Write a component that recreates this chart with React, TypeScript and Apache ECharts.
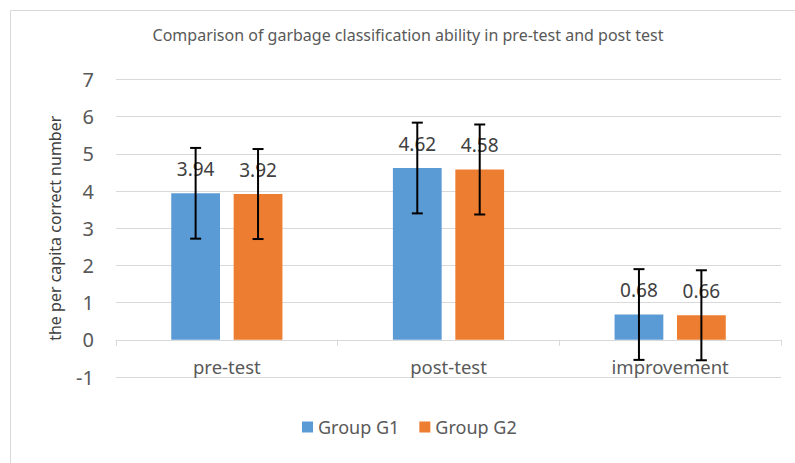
import React, { useEffect, useRef } from "react";
import * as echarts from "echarts";

const categories = ["pre-test", "post-test", "improvement"];
const g1Values = [3.94, 4.62, 0.68];
const g2Values = [3.92, 4.58, 0.66];
const g1Errors = [1.22, 1.22, 1.22];
const g2Errors = [1.21, 1.21, 1.21];
const seriesNames = ["Group G1", "Group G2"];
const titleText = "Comparison of garbage classification ability in pre-test and post test";
const yAxisName = "the per capita correct number";

const FONT = "'Noto Sans', sans-serif";
const BAR_W = 0.22;
const BAR_GAP = 0.28;
const GRID_TOP = 79.5;
const GRID_BOTTOM = 86;
const CHART_H = 463;

export default function App() {
  const ref = useRef<HTMLDivElement>(null);
  useEffect(() => {
    if (!ref.current) return;
    const chart = echarts.init(ref.current, undefined, { renderer: "svg" });

    const makeErr = (vals: number[], errs: number[], side: number) => ({
      type: "custom",
      name: "err" + side,
      z: 10,
      silent: true,
      data: vals.map((v, i) => [i, v, errs[i]]),
      renderItem: (params: any, api: any) => {
        const idx = api.value(0);
        const v = api.value(1);
        const e = api.value(2);
        const band = api.size([1, 0])[0];
        const bw = band * BAR_W;
        const off = (bw + bw * BAR_GAP) / 2;
        const c = api.coord([idx, v]);
        const x = c[0] + side * off;
        const top = api.coord([idx, v + e])[1];
        const bot = api.coord([idx, v - e])[1];
        const cap = 5.5;
        const style = { stroke: "#000000", lineWidth: 2 };
        return {
          type: "group",
          children: [
            { type: "line", shape: { x1: x, y1: top, x2: x, y2: bot }, style },
            { type: "line", shape: { x1: x - cap, y1: top, x2: x + cap, y2: top }, style },
            { type: "line", shape: { x1: x - cap, y1: bot, x2: x + cap, y2: bot }, style },
          ],
        };
      },
    });

    const barLabel = {
      show: true,
      position: "top",
      distance: 15,
      color: "#404040",
      fontSize: 19,
      fontFamily: FONT,
    };

    // distance of one y unit in pixels (range -1..7 = 8 units)
    const unitPx = (CHART_H - GRID_TOP - GRID_BOTTOM) / 8;

    chart.setOption({
      animation: false,
      textStyle: { fontFamily: FONT },
      grid: { left: 116, right: 14, top: GRID_TOP, bottom: GRID_BOTTOM, containLabel: false },
      graphic: [
        {
          type: "polyline",
          shape: { points: [[10.5, 470], [10.5, 10.5], [800, 10.5]] },
          style: { stroke: "#D9D9D9", lineWidth: 1, fill: "none" },
          silent: true,
        },
        {
          type: "text",
          x: 408,
          y: 35,
          style: {
            text: titleText,
            fontSize: 16,
            fontFamily: FONT,
            fill: "#595959",
            align: "center",
            verticalAlign: "middle",
          },
          silent: true,
        },
      ],
      legend: {
        data: seriesNames,
        left: 297,
        top: 413,
        itemWidth: 11,
        itemHeight: 11,
        itemGap: 20,
        icon: "rect",
        textStyle: { fontSize: 18, color: "#595959", fontFamily: FONT },
      },
      xAxis: {
        type: "category",
        data: categories,
        offset: -unitPx,
        axisLine: { onZero: false, lineStyle: { color: "#D9D9D9", width: 1 } },
        axisTick: { show: true, length: 6, lineStyle: { color: "#D9D9D9" } },
        axisLabel: { color: "#595959", fontSize: 18.5, margin: 17, fontFamily: FONT },
      },
      yAxis: {
        type: "value",
        min: -1,
        max: 7,
        interval: 1,
        name: yAxisName,
        nameLocation: "middle",
        nameGap: 53,
        nameTextStyle: { color: "#404040", fontSize: 16, fontFamily: FONT },
        axisLine: { show: false },
        axisTick: { show: false },
        axisLabel: { color: "#595959", fontSize: 20, margin: 22, fontFamily: FONT },
        splitLine: { lineStyle: { color: "#D9D9D9", width: 1 } },
      },
      series: [
        {
          type: "bar",
          name: seriesNames[0],
          data: g1Values,
          barWidth: BAR_W * 100 + "%",
          barGap: BAR_GAP * 100 + "%",
          itemStyle: { color: "#5B9BD5" },
          label: barLabel,
        },
        {
          type: "bar",
          name: seriesNames[1],
          data: g2Values,
          barWidth: BAR_W * 100 + "%",
          barGap: BAR_GAP * 100 + "%",
          itemStyle: { color: "#ED7D31" },
          label: barLabel,
        },
        makeErr(g1Values, g1Errors, -1),
        makeErr(g2Values, g2Errors, 1),
      ],
    });
    return () => chart.dispose();
  }, []);
  return (
    <div
      ref={ref}
      style={{ position: "fixed", left: 0, top: 0, width: 795, height: 463, background: "#fff" }}
    />
  );
}
